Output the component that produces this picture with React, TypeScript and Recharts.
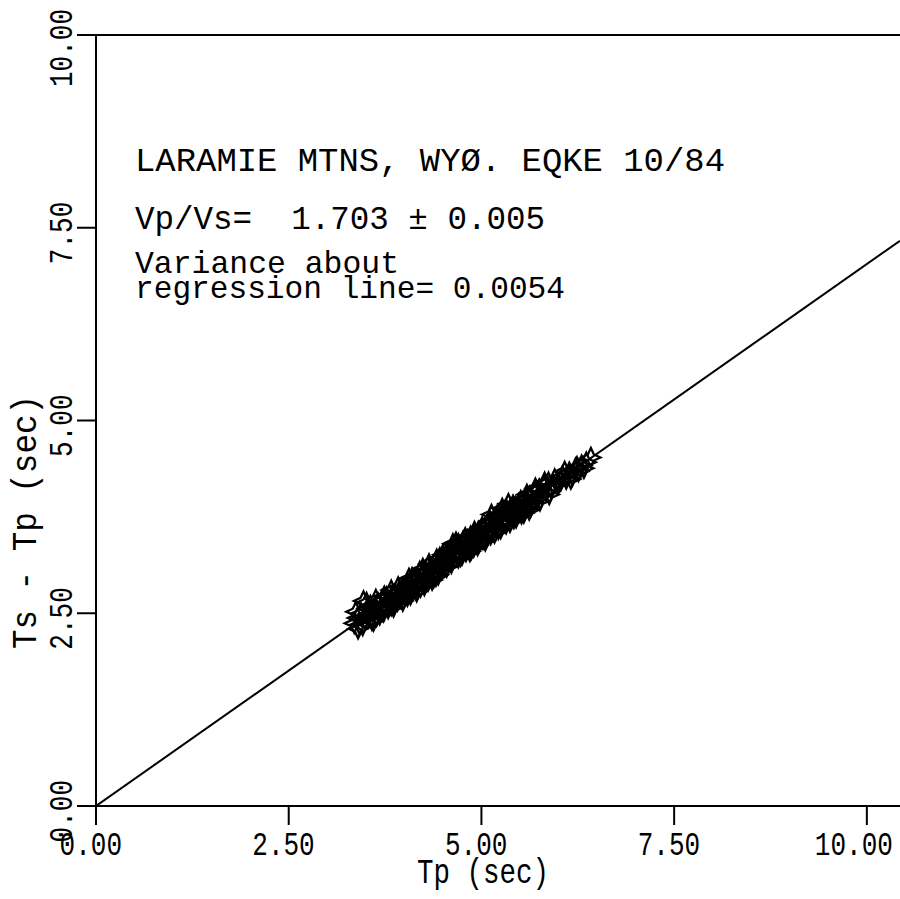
import React from "react";
import {
  ScatterChart,
  Scatter,
  XAxis,
  YAxis,
  ReferenceLine,
} from "recharts";

// Observed (Tp, Ts - Tp) pairs in seconds
const tp: number[] = [
  3.35, 3.39, 3.42, 3.44, 3.47, 3.49, 3.52, 3.54, 3.56, 3.58, 3.60, 3.62, 3.64, 3.66, 3.69,
  3.71, 3.73, 3.75, 3.77, 3.79, 3.81, 3.83, 3.85, 3.87, 3.89, 3.91, 3.93, 3.95, 3.97, 3.99,
  4.01, 4.03, 4.05, 4.07, 4.09, 4.11, 4.13, 4.15, 4.17, 4.19, 4.21, 4.23, 4.25, 4.27, 4.29,
  4.31, 4.33, 4.35, 4.37, 4.39, 4.41, 4.43, 4.45, 4.47, 4.49, 4.16, 4.06, 4.24, 4.36, 4.46,
  4.52, 4.54, 4.56, 4.58, 4.60, 4.62, 4.64, 4.66, 4.68, 4.70, 4.72, 4.74, 4.76, 4.78, 4.80,
  4.82, 4.84, 4.86, 4.88, 4.90, 4.92, 4.94, 4.96, 4.98, 4.63, 4.75, 4.87, 4.97,
  5.00, 5.02, 5.04, 5.06, 5.08, 5.10, 5.12, 5.14, 5.16, 5.18, 5.20, 5.22, 5.24, 5.26, 5.28,
  5.30, 5.32, 5.34, 5.36, 5.38, 5.40, 5.42, 5.44, 5.46, 5.48, 5.50, 5.52, 5.54, 5.56, 5.58,
  5.13, 5.35,
  5.60, 5.63, 5.66, 5.69, 5.72, 5.75, 5.78, 5.81, 5.84, 5.87, 5.90, 5.95, 6.00, 6.05, 6.10,
  6.14, 6.18, 6.22, 6.26, 6.30, 6.36, 6.42,
  3.37, 3.46, 3.51, 3.57, 3.63, 3.68, 3.74, 3.80, 3.86, 3.92, 3.98, 4.04, 4.10, 4.14, 4.20,
  4.26, 4.32, 4.38, 4.44, 4.50, 4.55, 4.61, 4.67, 4.73, 4.79, 4.85, 4.91, 4.95, 5.01, 5.05,
  5.11, 5.17, 5.21, 5.25, 5.31, 5.37, 5.41, 5.45, 5.51, 5.55, 5.59, 5.64, 5.70, 5.76, 5.82,
  5.88, 5.93, 6.03, 6.08, 6.16, 6.24, 6.33, 3.40, 3.60, 3.83, 4.08, 4.42, 4.70, 5.27, 5.62,
  3.53, 3.70, 3.88, 4.02, 4.18, 4.34, 4.53, 4.69, 4.83, 4.99, 5.15, 5.29, 5.43, 5.57, 5.74,
];
const tsMinusTp: number[] = [
  2.37, 2.44, 2.35, 2.50, 2.66, 2.42, 2.56, 2.47, 2.60, 2.41, 2.53, 2.59, 2.46, 2.63, 2.55,
  2.67, 2.52, 2.60, 2.71, 2.56, 2.65, 2.60, 2.74, 2.62, 2.69, 2.66, 2.78, 2.70, 2.73, 2.82,
  2.74, 2.86, 2.78, 2.90, 2.83, 2.80, 2.94, 2.87, 2.97, 2.89, 2.84, 3.00, 2.93, 3.05, 2.96,
  2.92, 3.07, 3.00, 3.10, 3.03, 2.98, 3.14, 3.06, 3.17, 3.09, 2.78, 2.95, 3.08, 2.93, 3.22,
  3.12, 3.24, 3.18, 3.29, 3.20, 3.33, 3.25, 3.36, 3.28, 3.22, 3.38, 3.31, 3.43, 3.34, 3.30,
  3.45, 3.39, 3.50, 3.41, 3.36, 3.52, 3.45, 3.56, 3.48, 3.40, 3.26, 3.33, 3.42,
  3.55, 3.46, 3.60, 3.53, 3.65, 3.57, 3.52, 3.68, 3.61, 3.72, 3.64, 3.59, 3.75, 3.68, 3.80,
  3.71, 3.66, 3.82, 3.75, 3.86, 3.78, 3.73, 3.88, 3.81, 3.92, 3.84, 3.79, 3.95, 3.87, 3.98,
  3.78, 3.92,
  3.90, 4.02, 3.94, 4.06, 3.98, 4.11, 4.04, 4.16, 4.08, 4.20, 4.12, 4.24, 4.18, 4.28, 4.24,
  4.33, 4.28, 4.38, 4.34, 4.42, 4.46, 4.52,
  2.52, 2.34, 2.64, 2.45, 2.68, 2.48, 2.72, 2.62, 2.58, 2.84, 2.66, 2.72, 2.96, 2.82, 3.04,
  2.86, 3.14, 2.96, 3.00, 3.26, 3.10, 3.15, 3.42, 3.24, 3.48, 3.30, 3.56, 3.38, 3.62, 3.44,
  3.70, 3.54, 3.78, 3.60, 3.84, 3.68, 3.90, 3.74, 3.96, 3.80, 4.04, 3.88, 4.12, 3.96, 4.20,
  4.04, 4.16, 4.22, 4.34, 4.24, 4.40, 4.38, 2.30, 2.40, 2.80, 2.74, 3.20, 3.40, 3.86, 3.84,
  2.49, 2.58, 2.75, 2.80, 2.91, 3.06, 3.19, 3.31, 3.40, 3.50, 3.63, 3.72, 3.83, 3.92, 4.03,
];

// Regression line endpoints (Vp/Vs = 1.703)
const fitTp: number[] = [0, 10.43];
const fitTsTp: number[] = [0, 7.332];

const xTicks: number[] = [0, 2.5, 5, 7.5, 10];
const yTicks: number[] = [0, 2.5, 5, 7.5, 10];

const titleLines: string[] = [
  "LARAMIE MTNS, WYØ. EQKE 10/84",
  "Vp/Vs=  1.703 ± 0.005",
  "Variance about",
  "regression line= 0.0054",
];
const xTitle = "Tp (sec)";
const yTitle = "Ts - Tp (sec)";

const points = tp.map((x, i) => ({ x, y: tsMinusTp[i] }));
const fit = fitTp.map((x, i) => ({ x, y: fitTsTp[i] }));

const FONT = "'Liberation Mono', 'DejaVu Sans Mono', monospace";

const Star = (props: any) => {
  const { cx, cy } = props;
  if (cx == null || cy == null) return null;
  const r = 9.5;
  const a = 3;
  const d = `M${cx},${cy - r} L${cx + a},${cy - a} L${cx + r},${cy} L${cx + a},${cy + a} L${cx},${cy + r} L${cx - a},${cy + a} L${cx - r},${cy} L${cx - a},${cy - a} Z`;
  return <path d={d} fill="none" stroke="#000" strokeWidth={2.3} />;
};

const XTick = (props: any) => {
  const { x, y, payload } = props;
  const s = Number(payload.value).toFixed(2);
  return (
    <text
      x={x + 26}
      y={y + 28}
      textAnchor="end"
      fontFamily={FONT}
      fontSize={33}
      textLength={s.length * 15.6}
      lengthAdjust="spacingAndGlyphs"
      fill="#000"
    >
      {s}
    </text>
  );
};

const YTick = (props: any) => {
  const { x, y, payload } = props;
  const s = Number(payload.value).toFixed(2);
  return (
    <text
      transform={`translate(${x - 3},${y - 26}) rotate(-90)`}
      textAnchor="end"
      fontFamily={FONT}
      fontSize={33}
      textLength={s.length * 15.6}
      lengthAdjust="spacingAndGlyphs"
      fill="#000"
    >
      {s}
    </text>
  );
};

export default function App() {
  return (
    <div style={{ position: "absolute", left: 0, top: 0, width: 900, height: 899, background: "#fff" }}>
      <ScatterChart
        width={900}
        height={899}
        margin={{ top: 35, right: 0, bottom: 33, left: 26 }}
      >
        <XAxis
          type="number"
          dataKey="x"
          domain={[0, 10.43]}
          ticks={xTicks}
          allowDataOverflow
          height={60}
          tickSize={19}
          tickMargin={2}
          tick={<XTick />}
          axisLine={{ stroke: "#000", strokeWidth: 2 }}
          tickLine={{ stroke: "#000", strokeWidth: 2 }}
        />
        <YAxis
          type="number"
          dataKey="y"
          domain={[0, 10]}
          ticks={yTicks}
          allowDataOverflow
          width={70}
          tickSize={19}
          tickMargin={2}
          tick={<YTick />}
          axisLine={{ stroke: "#000", strokeWidth: 2 }}
          tickLine={{ stroke: "#000", strokeWidth: 2 }}
        />
        <ReferenceLine y={10} stroke="#000" strokeWidth={2} ifOverflow="visible" />
        <Scatter
          data={fit}
          line={{ stroke: "#000", strokeWidth: 2 }}
          shape={() => null}
          isAnimationActive={false}
        />
        <Scatter data={points} shape={<Star />} isAnimationActive={false} />
      </ScatterChart>
      <svg
        width={900}
        height={899}
        style={{ position: "absolute", left: 0, top: 0, pointerEvents: "none" }}
      >
        <text x={135} y={171} fontFamily={FONT} fontSize={33} textLength={590} lengthAdjust="spacingAndGlyphs" fill="#000">
          {titleLines[0]}
        </text>
        <text x={135} y={229} fontFamily={FONT} fontSize={33} textLength={410} lengthAdjust="spacingAndGlyphs" fill="#000" style={{ whiteSpace: "pre" }}>
          {titleLines[1]}
        </text>
        <text x={135} y={273} fontFamily={FONT} fontSize={32} textLength={264} lengthAdjust="spacingAndGlyphs" fill="#000">
          {titleLines[2]}
        </text>
        <text x={135} y={298} fontFamily={FONT} fontSize={32} textLength={430} lengthAdjust="spacingAndGlyphs" fill="#000">
          {titleLines[3]}
        </text>
        <text x={483} y={883} textAnchor="middle" fontFamily={FONT} fontSize={35} textLength={132} lengthAdjust="spacingAndGlyphs" fill="#000">
          {xTitle}
        </text>
        <text
          transform="translate(36,522) rotate(-90)"
          textAnchor="middle"
          fontFamily={FONT}
          fontSize={35}
          textLength={254}
          lengthAdjust="spacingAndGlyphs"
          fill="#000"
        >
          {yTitle}
        </text>
      </svg>
    </div>
  );
}
